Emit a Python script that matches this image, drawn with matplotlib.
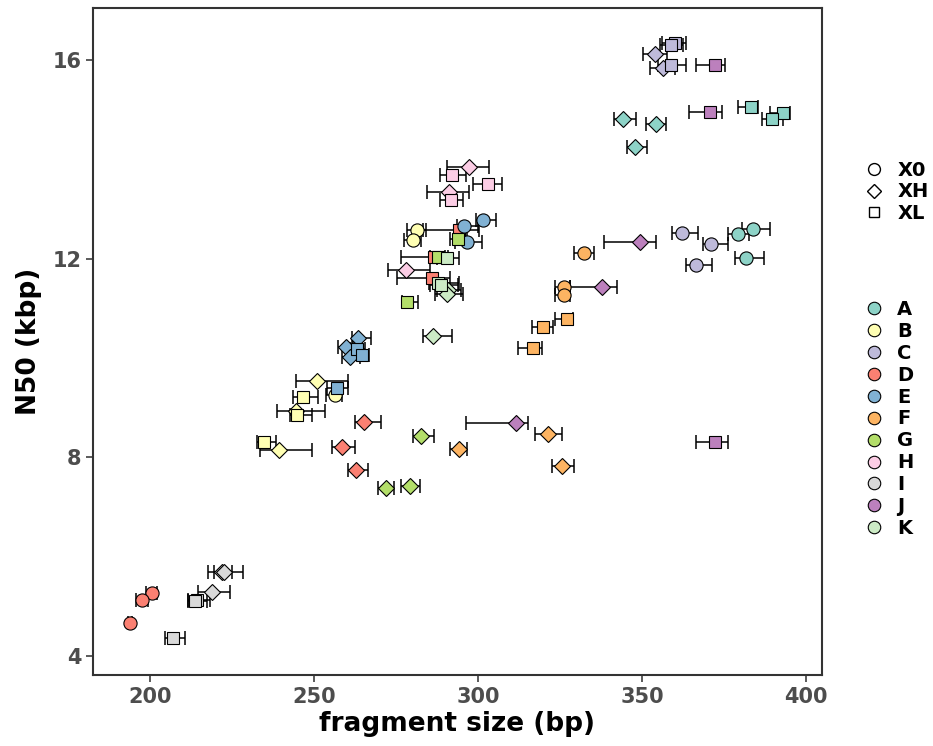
import numpy as np
import matplotlib
matplotlib.use("Agg")
import matplotlib.pyplot as plt
from matplotlib.lines import Line2D

# sample group, treatment, fragment size (bp), N50 (kbp), fragment size range
group = ["A"] * 9 + ["B"] * 9 + ["C"] * 8 + ["D"] * 9 + ["E"] * 9 + ["F"] * 9 + \
        ["G"] * 6 + ["H"] * 6 + ["I"] * 6 + ["J"] * 6 + ["K"] * 6
treat = ["X0", "X0", "X0", "XH", "XH", "XH", "XL", "XL", "XL",
         "X0", "X0", "X0", "XH", "XH", "XH", "XL", "XL", "XL",
         "X0", "X0", "X0", "XH", "XH", "XL", "XL", "XL",
         "X0", "X0", "X0", "XH", "XH", "XH", "XL", "XL", "XL",
         "X0", "X0", "X0", "XH", "XH", "XH", "XL", "XL", "XL",
         "X0", "X0", "X0", "XH", "XH", "XH", "XL", "XL", "XL",
         "XH", "XH", "XH", "XL", "XL", "XL",
         "XH", "XH", "XH", "XL", "XL", "XL",
         "XH", "XH", "XH", "XL", "XL", "XL",
         "XH", "XH", "XH", "XL", "XL", "XL",
         "XH", "XH", "XH", "XL", "XL", "XL"]
frag = [379.2, 383.9, 381.7, 344.3, 354.3, 347.9, 383.4, 392.9, 389.8,
        281.3, 280.1, 256.4, 251.0, 244.5, 239.4, 246.5, 244.7, 234.8,
        362.1, 371.2, 366.5, 354.0, 356.3, 360.1, 358.8, 359.0,
        200.7, 197.5, 193.9, 265.3, 258.4, 262.8, 294.3, 286.6, 285.9,
        301.6, 295.8, 296.6, 263.5, 259.8, 261.0, 256.9, 263.2, 264.5,
        332.3, 326.2, 326.2, 321.2, 294.3, 325.7, 327.2, 319.9, 316.7,
        282.5, 272.0, 279.3, 293.8, 287.9, 278.3,
        297.3, 291.2, 278.0, 292.2, 303.1, 291.8,
        221.9, 222.6, 218.8, 214.4, 213.8, 206.9,
        349.4, 337.7, 311.5, 372.3, 370.7, 372.3,
        291.0, 290.5, 286.3, 290.5, 287.9, 288.7]
n50 = [12.49, 12.59, 12.02, 14.81, 14.71, 14.26, 15.05, 14.93, 14.82,
       12.58, 12.38, 9.25, 9.53, 8.94, 8.14, 9.21, 8.86, 8.31,
       12.51, 12.30, 11.88, 16.13, 15.85, 16.34, 16.30, 15.91,
       5.28, 5.12, 4.67, 8.71, 8.21, 7.74, 12.58, 12.04, 11.61,
       12.78, 12.66, 12.34, 10.40, 10.22, 10.02, 9.39, 10.18, 10.06,
       12.12, 11.43, 11.27, 8.47, 8.17, 7.83, 10.78, 10.63, 10.21,
       8.44, 7.38, 7.43, 12.40, 12.04, 11.12,
       13.85, 13.35, 11.77, 13.69, 13.50, 13.18,
       5.69, 5.69, 5.30, 5.12, 5.10, 4.36,
       12.34, 11.43, 8.70, 15.90, 14.96, 8.31,
       11.37, 11.29, 10.45, 12.01, 11.52, 11.47]
frag_lo = [376.3, 380.4, 378.4, 341.5, 351.2, 345.3, 379.4, 389.0, 386.5,
           278.4, 277.5, 253.7, 244.4, 238.6, 233.5, 243.5, 242.7, 232.5,
           359.3, 368.5, 363.4, 350.4, 352.4, 356.0, 355.5, 355.0,
           198.8, 195.6, 193.2, 262.5, 255.4, 260.5, 283.3, 276.4, 275.4,
           299.4, 293.5, 293.0, 261.5, 257.4, 258.5, 253.9, 261.0, 262.0,
           329.3, 323.5, 323.5, 317.4, 291.5, 322.5, 323.5, 316.4, 312.3,
           280.3, 269.6, 276.5, 291.5, 285.5, 276.7,
           290.5, 284.5, 272.7, 288.4, 298.4, 288.4,
           217.8, 219.5, 214.7, 211.7, 211.5, 204.6,
           338.4, 328.0, 296.3, 366.5, 364.4, 366.5,
           287.4, 287.0, 283.3, 287.5, 285.0, 285.5]
frag_hi = [382.5, 389.2, 387.2, 348.2, 357.3, 351.4, 385.4, 395.1, 393.0,
           284.2, 282.5, 258.4, 260.5, 253.4, 249.3, 251.3, 249.5, 238.4,
           367.2, 376.3, 371.4, 357.5, 360.0, 363.4, 362.5, 363.4,
           202.2, 199.5, 194.6, 270.4, 262.5, 266.6, 300.4, 290.0, 291.5,
           305.5, 300.1, 301.3, 267.3, 262.0, 264.0, 260.5, 265.5, 266.8,
           335.4, 328.0, 328.0, 325.5, 296.6, 329.3, 329.1, 323.0, 319.4,
           286.6, 274.4, 282.3, 296.5, 291.0, 281.6,
           303.4, 297.3, 285.4, 296.3, 307.4, 295.5,
           225.0, 228.4, 224.4, 218.3, 217.5, 210.5,
           354.3, 342.3, 315.3, 375.3, 374.3, 376.2,
           294.7, 295.5, 292.0, 294.2, 294.3, 294.0]

groups = ["A", "B", "C", "D", "E", "F", "G", "H", "I", "J", "K"]
treatments = ["X0", "XH", "XL"]

colors = dict(zip(groups, plt.get_cmap("Set3").colors))
markers = {"X0": "o", "XH": "D", "XL": "s"}
sizes = {"X0": 9.5, "XH": 8.0, "XL": 8.6}

fig = plt.figure(figsize=(9.33, 7.46), dpi=100)
ax = fig.add_axes([0.0997, 0.0952, 0.7813, 0.8941])

frag = np.array(frag)
n50 = np.array(n50)
xerr = np.array([frag - np.array(frag_lo), np.array(frag_hi) - frag])
ax.errorbar(frag, n50, xerr=xerr, fmt="none", ecolor="black",
            elinewidth=1.1, capsize=4.7, capthick=1.1, zorder=2)

for i in range(len(frag)):
    ax.plot(frag[i], n50[i], marker=markers[treat[i]], ms=sizes[treat[i]],
            mfc=colors[group[i]], mec="black", mew=0.8, ls="none", zorder=3)

ax.set_xlim(182.6, 404.9)
ax.set_ylim(3.62, 17.05)
ax.set_xticks([200, 250, 300, 350, 400])
ax.set_yticks([4, 8, 12, 16])
ax.tick_params(colors="#4d4d4d", labelsize=15, width=1.3, length=5)
for lab in ax.get_xticklabels() + ax.get_yticklabels():
    lab.set_fontweight("bold")
for sp in ax.spines.values():
    sp.set_color("#333333")
    sp.set_linewidth(1.5)

ax.set_xlabel("fragment size (bp)", fontsize=19, fontweight="bold", labelpad=3)
ax.set_ylabel("N50 (kbp)", fontsize=19, fontweight="bold", labelpad=7)

# legends
shape_handles = [Line2D([], [], marker=markers[t], ls="none", mfc="white", mec="black",
                        ms=sizes[t] * 0.9, mew=1.0, label=t) for t in treatments]
leg1 = fig.legend(handles=shape_handles, loc="upper left", bbox_to_anchor=(0.918, 0.797),
                  frameon=False, prop={"weight": "bold", "size": 14},
                  handlelength=0.8, handletextpad=0.8, labelspacing=0.12, borderpad=0)

color_handles = [Line2D([], [], marker="o", ls="none", mfc=colors[g], mec="black",
                        ms=9, mew=0.8, label=g) for g in groups]
leg2 = fig.legend(handles=color_handles, loc="upper left", bbox_to_anchor=(0.918, 0.611),
                  frameon=False, prop={"weight": "bold", "size": 14},
                  handlelength=0.8, handletextpad=0.8, labelspacing=0.15, borderpad=0)

fig.savefig("out.png", dpi=100)
